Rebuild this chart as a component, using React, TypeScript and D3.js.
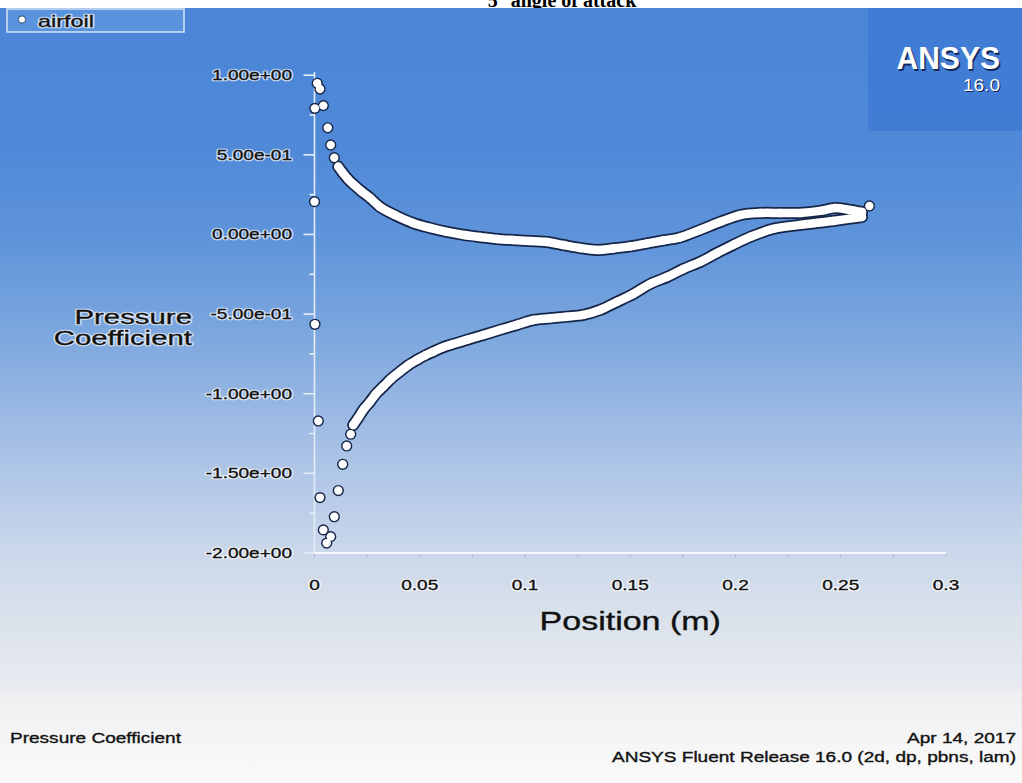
import React from 'react';
import * as d3 from 'd3';

// ---------- data ----------
const chartTitle = '5° angle of attack';
const legendLabel = 'airfoil';
const xAxisTitle = 'Position (m)';
const yAxisTitleLines = ['Pressure', 'Coefficient'];
const footerLeft = 'Pressure Coefficient';
const footerDate = 'Apr 14, 2017';
const footerRelease = 'ANSYS Fluent Release 16.0 (2d, dp, pbns, lam)';

const xTicks = [0, 0.05, 0.1, 0.15, 0.2, 0.25, 0.3];
const xTickLabels = ['0', '0.05', '0.1', '0.15', '0.2', '0.25', '0.3'];
const yTicks = [1, 0.5, 0, -0.5, -1, -1.5, -2];
const yTickLabels = ['1.00e+00', '5.00e-01', '0.00e+00', '-5.00e-01', '-1.00e+00', '-1.50e+00', '-2.00e+00'];

// sparse points around the leading edge
const leadingEdgeX = [0.0013, 0.0026, 0.0002, 0.0042, 0.0063, 0.0077, 0.0094, 0.0, 0.0002, 0.0018, 0.0026, 0.0042, 0.0058, 0.0077, 0.0094, 0.0113, 0.0134, 0.0153, 0.0172];
const leadingEdgeCp = [0.949, 0.913, 0.792, 0.809, 0.67, 0.562, 0.482, 0.206, -0.564, -1.171, -1.652, -1.855, -1.938, -1.897, -1.772, -1.608, -1.443, -1.328, -1.254];

// pressure side (upper branch in the plot)
const pressureSideX = [0.0113, 0.0135, 0.0159, 0.0188, 0.0221, 0.0264, 0.0311, 0.0382, 0.0468, 0.0549, 0.0629, 0.071, 0.0786, 0.0867, 0.0943, 0.1024, 0.1105, 0.1181, 0.1261, 0.1342, 0.1418, 0.1499, 0.158, 0.1656, 0.1736, 0.1831, 0.1926, 0.2022, 0.2117, 0.2212, 0.2307, 0.2402, 0.2473, 0.2544, 0.2601];
const pressureSideCp = [0.426, 0.386, 0.348, 0.311, 0.273, 0.229, 0.173, 0.122, 0.072, 0.041, 0.016, -0.003, -0.016, -0.028, -0.035, -0.041, -0.047, -0.066, -0.085, -0.097, -0.088, -0.075, -0.056, -0.038, -0.019, 0.028, 0.078, 0.122, 0.135, 0.135, 0.135, 0.148, 0.166, 0.154, 0.141];

// suction side (lower branch in the plot)
const suctionSideX = [0.0184, 0.0208, 0.0235, 0.0264, 0.0292, 0.0327, 0.0363, 0.0406, 0.0444, 0.0486, 0.0525, 0.0564, 0.0604, 0.0644, 0.0723, 0.0802, 0.0881, 0.0961, 0.1039, 0.1119, 0.1198, 0.1277, 0.1356, 0.1436, 0.1514, 0.1594, 0.1675, 0.1751, 0.1831, 0.1912, 0.1988, 0.2069, 0.2178, 0.2307, 0.2463, 0.2601];
const suctionSideCp = [-1.196, -1.15, -1.095, -1.05, -1.001, -0.955, -0.907, -0.861, -0.822, -0.788, -0.76, -0.736, -0.712, -0.694, -0.662, -0.631, -0.599, -0.568, -0.537, -0.526, -0.516, -0.505, -0.474, -0.424, -0.374, -0.311, -0.267, -0.217, -0.173, -0.116, -0.066, -0.016, 0.035, 0.06, 0.085, 0.11];

const trailingEdgeX = [0.2636];
const trailingEdgeCp = [0.179];

// ---------- component ----------
const W = 1022;
const H = 783;
const SANS = '"Liberation Sans", Arial, sans-serif';
const SERIF = '"Liberation Serif", "Times New Roman", serif';

function zip(xs: number[], ys: number[]): [number, number][] {
  return xs.map((v, i) => [v, ys[i]] as [number, number]);
}

type HTProps = {
  transform: string;
  anchor?: string;
  size: number;
  children: React.ReactNode;
  halo?: boolean;
};

function HaloText({ transform, anchor = 'start', size, children, halo = true }: HTProps) {
  return (
    <g transform={transform}>
      {halo && (
        <text textAnchor={anchor} fontFamily={SANS} fontSize={size} fill="#ffffff" stroke="#ffffff" strokeWidth={2.6} strokeOpacity={0.7} strokeLinejoin="round">
          {children}
        </text>
      )}
      <text textAnchor={anchor} fontFamily={SANS} fontSize={size} fill="#111" stroke="#111" strokeWidth={0.35}>
        {children}
      </text>
    </g>
  );
}

export default function App() {
  const x = d3.scaleLinear().domain([0, 0.3]).range([314.5, 946]);
  const y = d3.scaleLinear().domain([-2, 1]).range([553, 75.2]);

  const pressure = zip(pressureSideX, pressureSideCp);
  const suction = zip(suctionSideX, suctionSideCp);
  const sparse = zip(leadingEdgeX, leadingEdgeCp).concat(zip(trailingEdgeX, trailingEdgeCp));
  const allPts = sparse.concat(pressure, suction);

  const line = d3
    .line<[number, number]>()
    .curve(d3.curveCatmullRom.alpha(0.5))
    .x((d) => x(d[0]))
    .y((d) => y(d[1]));

  const yMinor = d3.range(-2, 1.0001, 0.25);
  const xMinor = d3.range(0, 0.3001, 0.025);

  const sx = 1.36;

  return (
    <svg width={W} height={H} style={{ position: 'absolute', left: 0, top: 0, display: 'block' }}>
      <defs>
        <linearGradient id="bg" x1="0" y1="8" x2="0" y2="690" gradientUnits="userSpaceOnUse">
          <stop offset="0" stopColor="#4a85d6" />
          <stop offset="0.208" stopColor="#5089d8" />
          <stop offset="0.34" stopColor="#5f94da" />
          <stop offset="0.472" stopColor="#7ba6de" />
          <stop offset="0.648" stopColor="#a8c1e5" />
          <stop offset="0.795" stopColor="#cad7ea" />
          <stop offset="0.898" stopColor="#dbe2ec" />
          <stop offset="1" stopColor="#e8ebf0" />
        </linearGradient>
        <linearGradient id="foot" x1="0" y1="690" x2="0" y2="783" gradientUnits="userSpaceOnUse">
          <stop offset="0" stopColor="#eeeff1" />
          <stop offset="1" stopColor="#fafafa" />
        </linearGradient>
        <filter id="soft" x="-10%" y="-10%" width="120%" height="120%">
          <feGaussianBlur stdDeviation="0.6" />
        </filter>
      </defs>

      <rect x={0} y={0} width={W} height={H} fill="#ffffff" />
      {/* title, partly hidden under the picture as in the reference */}
      <text x={562} y={7} textAnchor="middle" fontFamily={SERIF} fontWeight="bold" fontSize={20} fill="#000">
        {chartTitle}
      </text>

      {/* background */}
      <rect x={0} y={8} width={W} height={682} fill="url(#bg)" />
      <rect x={0} y={690} width={W} height={H - 690} fill="url(#foot)" />

      {/* ANSYS logo box */}
      <rect x={868} y={8} width={W - 868} height={123} fill="#3f7bd3" opacity={0.8} />
      <g transform="translate(1000,69) scale(0.97,1)">
        <text x={1.5} y={1.5} textAnchor="end" fontFamily={SANS} fontWeight="bold" fontSize={31} fill="#14285a">ANSYS</text>
        <text x={0} y={0} textAnchor="end" fontFamily={SANS} fontWeight="bold" fontSize={31} fill="#ffffff">ANSYS</text>
      </g>
      <g transform="translate(1000,91) scale(1.12,1)">
        <text x={1} y={1} textAnchor="end" fontFamily={SANS} fontSize={17} fill="#14285a">16.0</text>
        <text x={0} y={0} textAnchor="end" fontFamily={SANS} fontSize={17} fill="#ffffff">16.0</text>
      </g>

      {/* legend */}
      <rect x={7} y={9} width={177} height={23} fill="#5a93dd" stroke="#d6e4f5" strokeWidth={1.5} />
      <circle cx={22} cy={19.5} r={3.6} fill="#ffffff" stroke="#1b2d57" strokeWidth={0.8} />
      <HaloText transform="translate(38,27) scale(1.38,1)" size={17}>
        {legendLabel}
      </HaloText>

      {/* y axis */}
      <line x1={x(0)} x2={x(0)} y1={72} y2={y(-2)} stroke="#e4ecf6" strokeWidth={1.6} />
      {yMinor.map((v, i) => {
        const major = Math.abs(v * 2 - Math.round(v * 2)) < 1e-6;
        return (
          <line key={'ym' + i} x1={x(0) - (major ? 11 : 5)} x2={x(0)} y1={y(v)} y2={y(v)} stroke="#e8eef7" strokeWidth={1.6} />
        );
      })}
      {yTicks.map((v, i) => (
        <HaloText key={'yt' + i} transform={`translate(292,${y(v) + 5}) scale(${sx},1)`} anchor="end" size={14}>
          {yTickLabels[i]}
        </HaloText>
      ))}

      {/* x axis */}
      <line x1={x(0)} x2={x(0.3)} y1={y(-2)} y2={y(-2)} stroke="#f6f8fb" strokeWidth={1.8} />
      {xMinor.map((v, i) => (
        <line key={'xm' + i} x1={x(v)} x2={x(v)} y1={y(-2) + 1} y2={y(-2) + 4} stroke="#aab4c4" strokeWidth={1} />
      ))}
      {xTicks.map((v, i) => (
        <HaloText key={'xt' + i} transform={`translate(${x(v)},590) scale(${sx},1)`} anchor="middle" size={14}>
          {xTickLabels[i]}
        </HaloText>
      ))}

      {/* axis titles */}
      <HaloText transform={`translate(${(x(0) + x(0.3)) / 2},630) scale(1.36,1)`} anchor="middle" size={25} halo={false}>
        {xAxisTitle}
      </HaloText>
      {yAxisTitleLines.map((t, i) => (
        <HaloText key={'yl' + i} transform={`translate(192,${323.5 + i * 21}) scale(1.4,1)`} anchor="end" size={21}>
          {t}
        </HaloText>
      ))}

      {/* data: dark outline layer */}
      <g fill="#15254a" stroke="none" filter="url(#soft)">
        {allPts.map((d, i) => (
          <circle key={'do' + i} cx={x(d[0])} cy={y(d[1])} r={5.6} />
        ))}
        <path d={line(pressure) || ''} fill="none" stroke="#15254a" strokeWidth={12} strokeLinecap="round" />
        <path d={line(suction) || ''} fill="none" stroke="#15254a" strokeWidth={12} strokeLinecap="round" />
      </g>
      {/* data: white layer */}
      <g fill="#ffffff">
        <path d={line(pressure) || ''} fill="none" stroke="#ffffff" strokeWidth={8.5} strokeLinecap="round" />
        <path d={line(suction) || ''} fill="none" stroke="#ffffff" strokeWidth={8.5} strokeLinecap="round" />
        {allPts.map((d, i) => (
          <circle key={'dw' + i} cx={x(d[0])} cy={y(d[1])} r={4.2} />
        ))}
      </g>

      {/* footer */}
      <HaloText transform="translate(10,743) scale(1.27,1)" size={15} halo={false}>
        {footerLeft}
      </HaloText>
      <HaloText transform="translate(1016,743) scale(1.27,1)" anchor="end" size={15} halo={false}>
        {footerDate}
      </HaloText>
      <HaloText transform="translate(1016,762) scale(1.27,1)" anchor="end" size={15} halo={false}>
        {footerRelease}
      </HaloText>
    </svg>
  );
}
